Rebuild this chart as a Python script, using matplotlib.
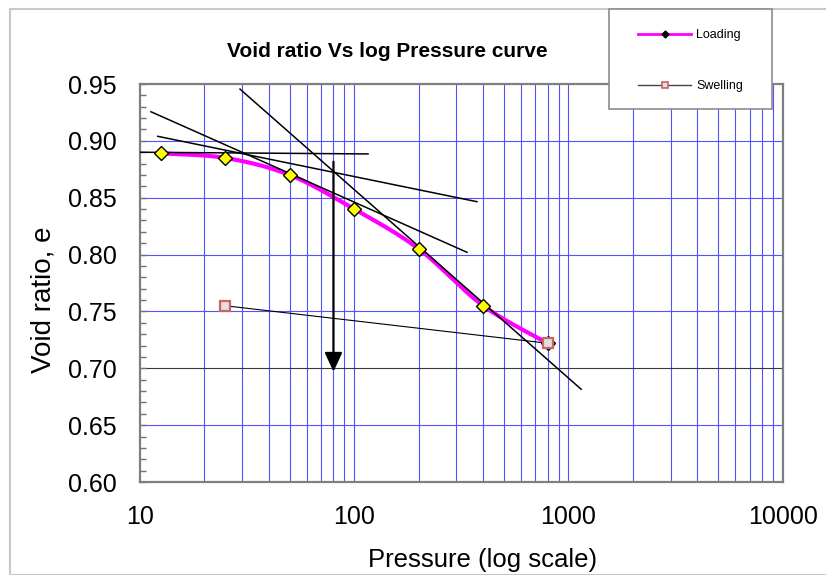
import numpy as np
import matplotlib
matplotlib.use("Agg")
import matplotlib.pyplot as plt
from matplotlib.lines import Line2D
from matplotlib.patches import Rectangle
from matplotlib.ticker import FixedLocator, FuncFormatter, NullFormatter, LogLocator

plt.rcParams['font.family'] = ['Liberation Sans', 'DejaVu Sans']

# Consolidation test data
load_pressure = [12.5, 25, 50, 100, 200, 400, 800]
load_void = [0.889, 0.885, 0.870, 0.840, 0.805, 0.755, 0.722]
swell_pressure = [800, 25]
swell_void = [0.722, 0.755]

# Casagrande construction lines (pressure, void ratio end points)
horiz_p = [10, 116]
horiz_e = [0.890, 0.8885]
tangent_p = [12.1, 374]
tangent_e = [0.904, 0.8465]
bisector_p = [11.25, 336]
bisector_e = [0.9256, 0.802]
virgin_p = [29.3, 1146]
virgin_e = [0.9455, 0.6816]
precon_p = 80
precon_e = [0.8817, 0.697]

x_ticks = [10, 100, 1000, 10000]
y_ticks = [0.60, 0.65, 0.70, 0.75, 0.80, 0.85, 0.90, 0.95]

W, H = 826, 575
fig = plt.figure(figsize=(W / 100, H / 100), dpi=100)
fig.patch.set_facecolor('white')

# outer chart border
fig.patches.append(Rectangle((10 / W, 0), 1.0, 1 - 9 / H, transform=fig.transFigure,
                             fill=False, edgecolor='#c8c8c8', lw=1.5, zorder=0))

ax = fig.add_axes([140 / W, 1 - 482 / H, 642.7 / W, 398 / H])
ax.set_xscale('log')
ax.set_xlim(10, 10000)
ax.set_ylim(0.60, 0.95)

# grid
grid_blue = (0.32, 0.32, 1.0)
ax.xaxis.set_major_locator(FixedLocator(x_ticks))
ax.xaxis.set_minor_locator(LogLocator(base=10, subs=np.arange(2, 10)))
ax.xaxis.set_minor_formatter(NullFormatter())
ax.xaxis.set_major_formatter(FuncFormatter(lambda v, p: f"{v:g}"))
ax.yaxis.set_major_locator(FixedLocator(y_ticks))
ax.yaxis.set_minor_locator(FixedLocator(np.round(np.arange(0.60, 0.951, 0.01), 2)))
ax.yaxis.set_major_formatter(FuncFormatter(lambda v, p: f"{v:.2f}"))

for xv in ax.xaxis.get_minorticklocs().tolist() + x_ticks:
    if 10 < xv < 10000:
        ax.axvline(xv, color=grid_blue, lw=0.8, zorder=1)
for yv in y_ticks[1:-1]:
    ax.axhline(yv, color='#3a3a3a' if abs(yv - 0.70) < 1e-9 else grid_blue,
               lw=0.8, zorder=1)

ax.tick_params(axis='x', which='both', length=0, pad=16.5, labelsize=18)
ax.tick_params(axis='y', which='both', direction='in', length=4.5, color='#6f6f6f',
               width=1.0, pad=16.5, labelsize=18)
ax.tick_params(axis='y', which='minor', length=4.5)
for s in ax.spines.values():
    s.set_color('#7f7f7f')
    s.set_linewidth(1.6)

# smooth loading curve (Bezier through points in display space)
fig.canvas.draw()
pts = ax.transData.transform(np.column_stack([load_pressure, load_void]))
ext = np.vstack([pts[0], pts, pts[-1]])
curve = []
for i in range(1, len(ext) - 2):
    p0, p1, p2, p3 = ext[i - 1], ext[i], ext[i + 1], ext[i + 2]
    c1 = p1 + (p2 - p0) / 6.0
    c2 = p2 - (p3 - p1) / 6.0
    t = np.linspace(0, 1, 40)[:, None]
    seg = ((1 - t) ** 3) * p1 + 3 * ((1 - t) ** 2) * t * c1 + 3 * (1 - t) * t ** 2 * c2 + t ** 3 * p2
    curve.append(seg if i == 1 else seg[1:])
curve = ax.transData.inverted().transform(np.vstack(curve))

ax.plot(curve[:, 0], curve[:, 1], color='#ff00ff', lw=3.0, solid_capstyle='round', zorder=3)
ax.plot(load_pressure, load_void, ls='none', marker='D', ms=6.8, mfc='#ffff00',
        mec='black', mew=1.0, zorder=5)

# construction lines
for px, ey in [(horiz_p, horiz_e), (tangent_p, tangent_e),
               (bisector_p, bisector_e), (virgin_p, virgin_e)]:
    ax.plot(px, ey, color='black', lw=1.1, zorder=4)
ax.annotate('', xy=(precon_p, precon_e[1]), xytext=(precon_p, precon_e[0]),
            arrowprops=dict(arrowstyle='-|>,head_length=0.8,head_width=0.37',
                            mutation_scale=14.5, color='black', lw=1.6,
                            shrinkA=0, shrinkB=0), zorder=4)

# swelling branch
ax.plot(swell_pressure, swell_void, color='black', lw=0.8, marker='s', ms=6.8,
        mfc='#e0e0e0', mec='#c86464', mew=1.6, zorder=6)

ax.set_xlabel('Pressure (log scale)', fontsize=18.5)
ax.xaxis.set_label_coords((483 - 140) / 642.7, (482 - 560) / 398)
ax.xaxis.label.set_va('center')
ax.set_ylabel('Void ratio, e', fontsize=20)
ax.yaxis.set_label_coords((43.5 - 140) / 642.7, (482 - 299.5) / 398)
ax.yaxis.label.set_va('center')

fig.text(387.5 / W, 1 - 51.5 / H, 'Void ratio Vs log Pressure curve',
         ha='center', va='center', fontsize=15, fontweight='bold')

# legend box
fig.patches.append(Rectangle((609 / W, 1 - 109 / H), 163 / W, 100 / H,
                             transform=fig.transFigure, facecolor='white',
                             edgecolor='#8c8c8c', lw=1.2, zorder=10))
handles = [
    Line2D([], [], color='#ff00ff', lw=2.0, marker='D', ms=3.5, mfc='black', mec='black'),
    Line2D([], [], color='#444444', lw=1.0, marker='s', ms=4.5, mfc='#e0e0e0',
           mec='#c86464', mew=1.2),
]
leg = fig.legend(handles, ['Loading', 'Swelling'], loc='center left',
                 bbox_to_anchor=(638 / W, 1 - 60.5 / H), frameon=False, fontsize=9,
                 handlelength=4.25, handletextpad=0.4, labelspacing=3.1,
                 borderpad=0, borderaxespad=0)
leg.set_zorder(11)

fig.savefig('out.png', dpi=100)
